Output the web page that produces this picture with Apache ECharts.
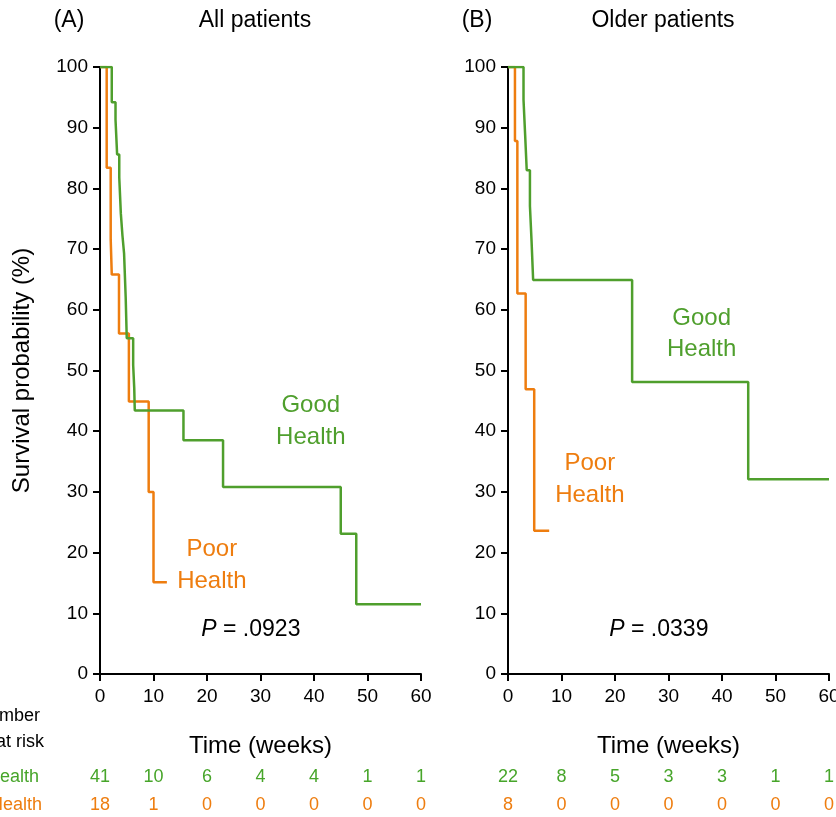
<!DOCTYPE html>
<html><head><meta charset="utf-8">
<script src="https://cdn.jsdelivr.net/npm/echarts@6/dist/echarts.min.js"></script>
<style>html,body{margin:0;padding:0;background:#fff}#c{width:836px;height:817px}</style>
</head><body><div id="c"></div>
<script>
// ---- data ----
var goodAllT = [0, 2.2, 2.9, 3.2, 3.6, 3.9, 4.2, 4.5, 4.8, 5.0, 6.2, 6.4, 6.5, 15.6, 23.0, 45.0, 47.9, 60];
var goodAllS = [100, 94.2, 91.3, 85.6, 81.8, 75.8, 72.2, 69.3, 62.1, 55.3, 50.9, 47.1, 43.4, 38.5, 30.8, 23.1, 11.5, 11.5];
var poorAllT = [0, 1.25, 2.0, 2.2, 3.55, 5.4, 9.1, 10.0, 12.5];
var poorAllS = [100, 83.4, 71.6, 65.8, 56.1, 44.9, 30.0, 15.1, 15.1];
var goodOldT = [0, 2.9, 3.2, 3.5, 4.1, 4.4, 4.7, 23.2, 44.9, 60];
var goodOldS = [100, 94.6, 88.9, 83.0, 77.1, 71.4, 64.9, 48.1, 32.1, 32.1];
var poorOldT = [0, 1.3, 1.75, 3.3, 4.9, 7.7];
var poorOldS = [100, 87.8, 62.7, 46.9, 23.6, 23.6];
var riskTimes = [0, 10, 20, 30, 40, 50, 60];
var riskGoodAll = [41, 10, 6, 4, 4, 1, 1];
var riskPoorAll = [18, 1, 0, 0, 0, 0, 0];
var riskGoodOld = [22, 8, 5, 3, 3, 1, 1];
var riskPoorOld = [8, 0, 0, 0, 0, 0, 0];
var panelTitles = ['All patients', 'Older patients'];
var panelLetters = ['(A)', '(B)'];
var pValues = ['.0923', '.0339'];

// ---- styling ----
var FONT = 'Liberation Sans, Arial, Helvetica, sans-serif';
var GREEN = '#4f9f2d', ORANGE = '#ee7d0f', GREEN_T = '#47a52a';
function zip(t, s) { return t.map(function (v, i) { return [v, s[i]]; }); }

var chart = echarts.init(document.getElementById('c'), null, {renderer: 'canvas'});
var grids = [
  {left: 100, top: 67, width: 321, height: 607, outerBoundsMode: 'none', containLabel: false},
  {left: 508, top: 67, width: 321, height: 607, outerBoundsMode: 'none', containLabel: false}
];
function xAx(i) {
  return {type: 'value', gridIndex: i, min: 0, max: 60, interval: 10,
    name: 'Time (weeks)', nameLocation: 'middle', nameGap: 60,
    nameTextStyle: {fontFamily: FONT, fontSize: 24, color: '#000'},
    axisLine: {onZero: false, lineStyle: {color: '#000', width: 2}},
    axisTick: {inside: false, length: 7, lineStyle: {color: '#000', width: 2}},
    axisLabel: {fontFamily: FONT, fontSize: 19, color: '#000', margin: 13},
    splitLine: {show: false}};
}
function yAx(i) {
  var o = {type: 'value', gridIndex: i, min: 0, max: 100, interval: 10,
    axisLine: {show: true, onZero: false, lineStyle: {color: '#000', width: 2}},
    axisTick: {show: true, inside: false, length: 7, lineStyle: {color: '#000', width: 2}},
    axisLabel: {fontFamily: FONT, fontSize: 19, color: '#000', margin: 12},
    splitLine: {show: false}};
  if (i === 0) {
    o.name = 'Survival probability (%)'; o.nameLocation = 'middle'; o.nameGap = 66;
    o.nameTextStyle = {fontFamily: FONT, fontSize: 24, color: '#000'};
  }
  return o;
}
function ser(i, data, color) {
  return {type: 'line', xAxisIndex: i, yAxisIndex: i, step: 'end', data: data, symbol: 'none',
    lineStyle: {color: color, width: 2.5}, animation: false, silent: true};
}
chart.setOption({
  animation: false,
  grid: grids,
  xAxis: [xAx(0), xAx(1)],
  yAxis: [yAx(0), yAx(1)],
  series: [
    ser(0, zip(poorAllT, poorAllS), ORANGE),
    ser(0, zip(goodAllT, goodAllS), GREEN),
    ser(1, zip(poorOldT, poorOldS), ORANGE),
    ser(1, zip(goodOldT, goodOldS), GREEN)
  ]
});

function px(i, x, y) { return chart.convertToPixel({gridIndex: i}, [x, y]); }
function txt(x, y, s, color, size, align, extra) {
  var st = {text: s, x: x, y: y, fill: color, font: (size || 24) + 'px ' + FONT,
    textAlign: align || 'center', textVerticalAlign: 'middle'};
  if (extra) for (var k in extra) st[k] = extra[k];
  return {type: 'text', style: st, silent: true};
}
var g = [];
// titles
g.push(txt(69, 21, panelLetters[0], '#000', 23));
g.push(txt(255, 21, panelTitles[0], '#000', 23));
g.push(txt(477, 21, panelLetters[1], '#000', 23));
g.push(txt(663, 21, panelTitles[1], '#000', 23));
// curve annotations (data coordinates)
var annots = [
  [0, 39.4, 44.2, 'Good', GREEN], [0, 39.4, 39.0, 'Health', GREEN],
  [0, 20.9, 20.5, 'Poor', ORANGE], [0, 20.9, 15.3, 'Health', ORANGE],
  [1, 36.2, 58.6, 'Good', GREEN], [1, 36.2, 53.4, 'Health', GREEN],
  [1, 15.3, 34.7, 'Poor', ORANGE], [1, 15.3, 29.5, 'Health', ORANGE]
];
annots.forEach(function (a) { var p = px(a[0], a[1], a[2]); g.push(txt(p[0], p[1], a[3], a[4], 24)); });
// P values
[0, 1].forEach(function (i) {
  var p = px(i, 28.2, 7.3);
  g.push({type: 'text', silent: true, style: {x: p[0], y: p[1], textAlign: 'center', textVerticalAlign: 'middle',
    text: '{i|P} = ' + pValues[i], font: '23px ' + FONT, fill: '#000',
    rich: {i: {fontStyle: 'italic', fontFamily: FONT, fontSize: 23, fill: '#000'}}}});
});
// risk table
var rows = [[riskGoodAll, riskGoodOld, GREEN_T, 777], [riskPoorAll, riskPoorOld, ORANGE, 805]];
rows.forEach(function (r) {
  [0, 1].forEach(function (i) {
    riskTimes.forEach(function (t, k) {
      var p = px(i, t, 0);
      g.push(txt(p[0], r[3], String(r[i][k]), r[2], 18));
    });
  });
});
g.push(txt(40, 716, 'Number', '#000', 18, 'right'));
g.push(txt(44, 742, 'at risk', '#000', 18, 'right'));
g.push(txt(39, 777, 'Good Health', GREEN_T, 18, 'right'));
g.push(txt(42, 805, 'Poor Health', ORANGE, 18, 'right'));
chart.setOption({graphic: g});
</script>
</body></html>
